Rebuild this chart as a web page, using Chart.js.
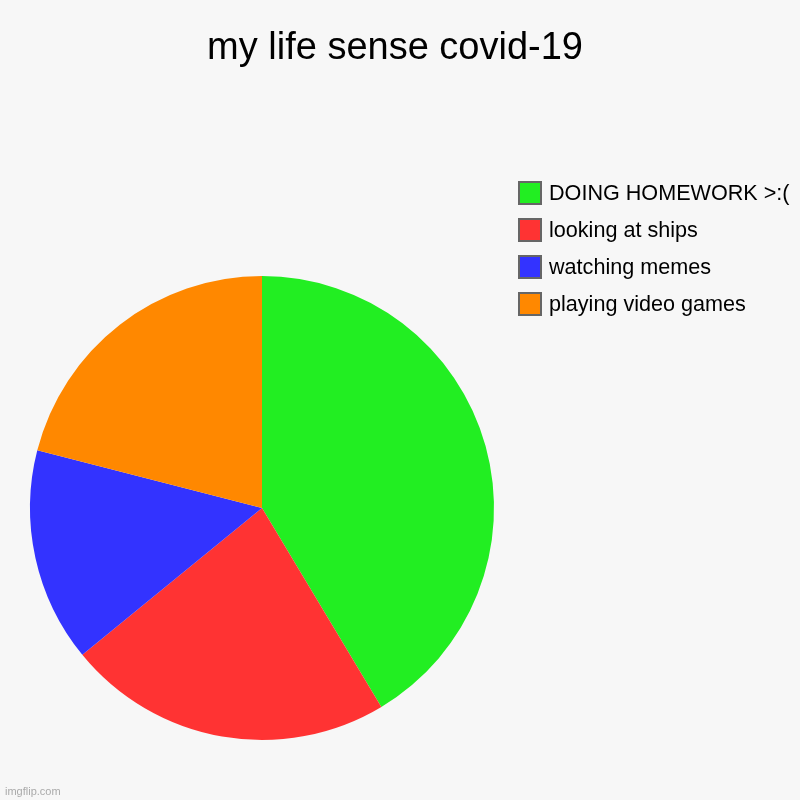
<!DOCTYPE html>
<html>
<head>
<meta charset="utf-8">
<script src="https://cdn.jsdelivr.net/npm/chart.js@4"></script>
<style>
html,body{margin:0;padding:0;background:#f7f7f7;}
#wrap{position:relative;width:800px;height:800px;}
canvas{display:block;}
</style>
</head>
<body>
<div id="wrap"><canvas id="c" width="800" height="800"></canvas></div>
<script>
const titleText = "my life sense covid-19";
const categories = ["DOING HOMEWORK >:(", "looking at ships", "watching memes", "playing video games"];
const values = [41.4, 22.7, 14.9, 21.0];
const colors = ["#22ee22", "#ff3333", "#3333ff", "#ff8800"];

const overlay = {
  id: 'overlay',
  afterDraw(chart) {
    const ctx = chart.ctx;
    ctx.save();
    // title
    ctx.fillStyle = '#000';
    ctx.font = '38px "Liberation Sans", Arial, sans-serif';
    ctx.textAlign = 'center';
    ctx.textBaseline = 'alphabetic';
    ctx.fillText(titleText, 395, 59);
    // legend
    ctx.textAlign = 'left';
    ctx.font = '21.6px "Liberation Sans", Arial, sans-serif';
    const labels = chart.data.labels;
    const bg = chart.data.datasets[0].backgroundColor;
    labels.forEach((lab, i) => {
      const y = 181 + i * 37;
      ctx.fillStyle = '#666';
      ctx.fillRect(518, y, 24, 24);
      ctx.fillStyle = bg[i];
      ctx.fillRect(520, y + 2, 20, 20);
      ctx.fillStyle = '#000';
      ctx.fillText(lab, 549, y + 19);
    });
    // watermark
    ctx.fillStyle = '#aaa';
    ctx.font = '11px "Liberation Sans", Arial, sans-serif';
    ctx.fillText('imgflip.com', 5, 795);
    ctx.restore();
  }
};

new Chart(document.getElementById('c'), {
  type: 'pie',
  data: {
    labels: categories,
    datasets: [{
      data: values,
      backgroundColor: colors,
      borderWidth: 0
    }]
  },
  options: {
    responsive: false,
    animation: false,
    layout: { padding: { left: 30, top: 276, right: 306, bottom: 60 } },
    plugins: {
      legend: { display: false },
      title: { display: false },
      tooltip: { enabled: false }
    }
  },
  plugins: [overlay]
});
</script>
</body>
</html>
